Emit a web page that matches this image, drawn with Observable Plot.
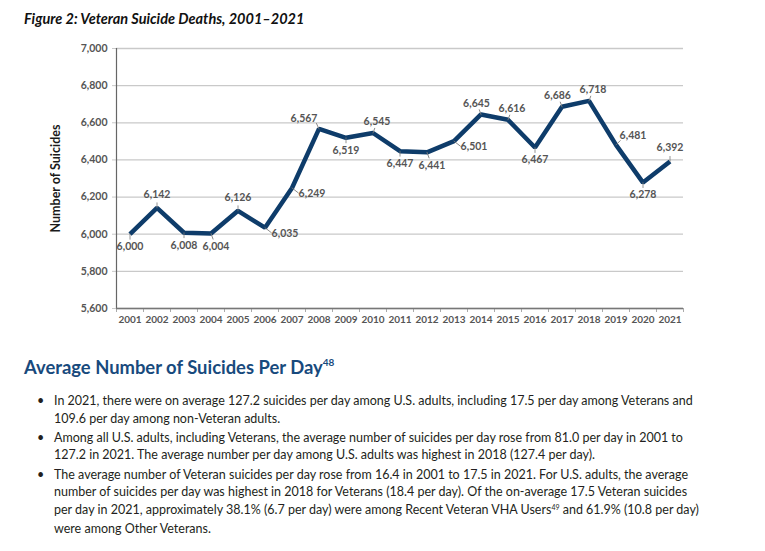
<!DOCTYPE html>
<html>
<head>
<meta charset="utf-8">
<script src="https://cdn.jsdelivr.net/npm/d3@7"></script>
<script src="https://cdn.jsdelivr.net/npm/@observablehq/plot@0.6"></script>
<style>
  html, body { margin: 0; padding: 0; background: #fff; }
  body { width: 765px; height: 551px; position: relative; overflow: hidden; font-family: Lato, "Open Sans", sans-serif; color: #231f20; }
  #title { position: absolute; left: 24px; top: 10px; font: italic bold 14.5px Lato, sans-serif; color: #111; white-space: nowrap; }
  #chart { position: absolute; left: 0; top: 34px; }
  #chart svg text { font-weight: bold; }
  #heading { position: absolute; left: 24px; top: 356px; font: bold 18.4px Lato, sans-serif; color: #184a7d; white-space: nowrap; }
  #heading sup { font-size: 10px; vertical-align: 0; position: relative; top: -8px; }
  #notes { position: absolute; left: 0; top: 392px; margin: 0; padding: 0; list-style: none; font-size: 12.5px; line-height: 17.6px; white-space: nowrap; }
  #notes li { position: relative; padding-left: 54px; margin-bottom: 1.6px; }
  #notes li::before { content: "•"; position: absolute; left: 37px; top: 0; }
  #notes sup { font-size: 7px; vertical-align: 0; position: relative; top: -4px; }
</style>
</head>
<body>
<div id="title">Figure 2: Veteran Suicide Deaths, 2001–2021</div>
<div id="chart"></div>
<div id="heading">Average Number of Suicides Per Day<sup>48</sup></div>
<ul id="notes">
  <li>In 2021, there were on average 127.2 suicides per day among U.S. adults, including 17.5 per day among Veterans and<br>109.6 per day among non-Veteran adults.</li>
  <li>Among all U.S. adults, including Veterans, the average number of suicides per day rose from 81.0 per day in 2001 to<br>127.2 in 2021. The average number per day among U.S. adults was highest in 2018 (127.4 per day).</li>
  <li>The average number of Veteran suicides per day rose from 16.4 in 2001 to 17.5 in 2021. For U.S. adults, the average<br>number of suicides per day was highest in 2018 for Veterans (18.4 per day). Of the on-average 17.5 Veteran suicides<br>per day in 2021, approximately 38.1% (6.7 per day) were among Recent Veteran VHA Users<sup>49</sup> and 61.9% (10.8 per day)<br>were among Other Veterans.</li>
</ul>
<script>
// ---- data ----
const years = [2001, 2002, 2003, 2004, 2005, 2006, 2007, 2008, 2009, 2010, 2011,
               2012, 2013, 2014, 2015, 2016, 2017, 2018, 2019, 2020, 2021];
const deaths = [6000, 6142, 6008, 6004, 6126, 6035, 6249, 6567, 6519, 6545, 6447,
                6441, 6501, 6645, 6616, 6467, 6686, 6718, 6481, 6278, 6392];
const yTicks = [5600, 5800, 6000, 6200, 6400, 6600, 6800, 7000];
const yLabel = "Number of Suicides";

// ---- label layout (where each value label sits relative to its point) ----
const labelPlace = ["below", "above", "below", "belowR", "above", "right", "right", "upLeft",
                    "below", "aboveR", "below", "belowR", "right", "aboveL", "aboveR", "below",
                    "aboveL", "aboveR", "upRight", "below", "above"];
const placeStyle = {
  above:   {dx: 0,    dy: -13.5, rot: 0,    len: 5},
  aboveL:  {dx: -4.5, dy: -11,   rot: -20,  len: 5},
  aboveR:  {dx: 4,    dy: -11.5, rot: 20,   len: 5},
  below:   {dx: 0,    dy: 12.5,  rot: 180,  len: 5},
  belowR:  {dx: 5,    dy: 13.5,  rot: 160,  len: 6},
  right:   {dx: 20,   dy: 5.5,   rot: 128,  len: 8},
  upLeft:  {dx: -15,  dy: -10,   rot: -25,  len: 6},
  upRight: {dx: 17,   dy: -9.5,  rot: 45,   len: 6}
};

const table = years.map((year, i) => ({year, value: deaths[i], place: labelPlace[i]}));
const boundaries = [years[0] - 0.5, ...years.map(y => y + 0.5)];
const fmt = d3.format(",");

const leader = {
  draw(context, l) { context.moveTo(0, 0); context.lineTo(0, -l); }
};

const labelMarks = Object.entries(placeStyle).flatMap(([key, s]) => {
  const subset = table.filter(d => d.place === key);
  return [
    Plot.vector(subset, {x: "year", y: "value", rotate: s.rot, length: s.len, anchor: "start",
                         shape: leader, stroke: "#7a7a7a", strokeWidth: 0.8}),
    Plot.text(subset, {x: "year", y: "value", text: d => fmt(d.value), dx: s.dx, dy: s.dy,
                       fill: "#555", fontSize: 10.5})
  ];
});

const chart = Plot.plot({
  width: 765,
  height: 300,
  marginTop: 14,
  marginBottom: 26,
  marginLeft: 116,
  marginRight: 82,
  style: {fontFamily: "Lato, 'Open Sans', sans-serif", fontSize: "10px", color: "#555", background: "transparent"},
  x: {type: "linear", domain: [years[0] - 0.5, years[years.length - 1] + 0.5]},
  y: {domain: [yTicks[0], yTicks[yTicks.length - 1]]},
  marks: [
    Plot.gridY(yTicks, {stroke: "#c9c9c9", strokeOpacity: 1, strokeWidth: 1.3}),
    Plot.axisY({ticks: yTicks, tickSize: 4, tickPadding: 5, tickFormat: fmt, label: null,
                stroke: "#c9c9c9", fill: "#555", fontSize: 10.5}),
    Plot.axisX({ticks: boundaries, tickSize: 4, tickFormat: () => "", label: null, stroke: "#aaa"}),
    Plot.axisX({ticks: years, tickSize: 0, tickPadding: 7, tickFormat: d => String(d), label: null,
                fill: "#555", fontSize: 10}),
    Plot.ruleX([years[0] - 0.5], {stroke: "#666", strokeWidth: 1.2}),
    Plot.ruleY([yTicks[0]], {stroke: "#777", strokeWidth: 1.6}),
    Plot.line(table, {x: "year", y: "value", stroke: "#0e3c6a", strokeWidth: 4.5,
                      strokeLinejoin: "miter", strokeLinecap: "butt"}),
    ...labelMarks,
    Plot.text([yLabel], {text: d => d, frameAnchor: "left", textAnchor: "middle", dx: -61, rotate: -90,
                         fill: "#1a1a1a", fontSize: 12.5})
  ]
});
document.getElementById("chart").appendChild(chart);
</script>
</body>
</html>
